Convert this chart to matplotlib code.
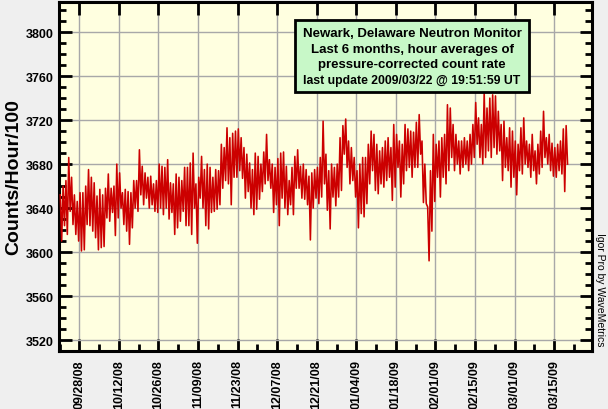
import matplotlib
matplotlib.use("Agg")
import matplotlib.pyplot as plt
from matplotlib.patches import Rectangle
import numpy as np
import pandas as pd

# daily envelope of the hourly counts
# first entry is 2008-09-21, one entry per day
start_date = "2008-09-21"
day_hi = [3652, 3660, 3665, 3686, 3668, 3652, 3646, 3654, 3654, 3660,
          3675, 3668, 3663, 3651, 3657, 3652, 3658, 3671, 3658, 3660,
          3680, 3672, 3654, 3657, 3655, 3654, 3665, 3665, 3693, 3678,
          3672, 3668, 3669, 3662, 3665, 3680, 3678, 3677, 3684, 3663,
          3662, 3671, 3668, 3665, 3677, 3677, 3681, 3690, 3662, 3668,
          3687, 3675, 3680, 3677, 3668, 3675, 3674, 3698, 3695, 3713,
          3704, 3708, 3710, 3712, 3704, 3695, 3689, 3681, 3675, 3690,
          3687, 3680, 3691, 3707, 3684, 3680, 3677, 3685, 3690, 3691,
          3678, 3665, 3677, 3687, 3693, 3678, 3680, 3675, 3669, 3672,
          3675, 3677, 3686, 3719, 3689, 3674, 3680, 3677, 3680, 3704,
          3715, 3721, 3701, 3695, 3686, 3674, 3680, 3686, 3686, 3698,
          3710, 3707, 3698, 3692, 3695, 3701, 3704, 3695, 3716, 3707,
          3701, 3698, 3716, 3712, 3710, 3709, 3718, 3725, 3701, 3680,
          3641, 3674, 3707, 3698, 3701, 3704, 3707, 3734, 3731, 3716,
          3707, 3701, 3701, 3704, 3701, 3707, 3716, 3736, 3722, 3716,
          3745, 3731, 3740, 3743, 3742, 3728, 3716, 3719, 3704, 3713,
          3710, 3701, 3698, 3713, 3722, 3701, 3698, 3707, 3692, 3698,
          3710, 3728, 3704, 3707, 3699, 3695, 3698, 3701, 3712, 3715]
day_lo = [3610, 3624, 3616, 3637, 3625, 3616, 3610, 3601, 3602, 3625,
          3624, 3619, 3613, 3602, 3604, 3605, 3631, 3628, 3636, 3615,
          3631, 3640, 3625, 3619, 3607, 3622, 3640, 3637, 3652, 3643,
          3649, 3640, 3643, 3637, 3636, 3640, 3634, 3640, 3630, 3636,
          3616, 3622, 3628, 3637, 3624, 3624, 3616, 3640, 3608, 3649,
          3640, 3624, 3621, 3636, 3637, 3639, 3643, 3658, 3665, 3662,
          3643, 3668, 3668, 3674, 3667, 3649, 3655, 3640, 3634, 3639,
          3648, 3655, 3662, 3665, 3658, 3636, 3643, 3624, 3649, 3640,
          3634, 3643, 3634, 3658, 3658, 3649, 3648, 3643, 3611, 3640,
          3649, 3644, 3650, 3662, 3638, 3621, 3650, 3642, 3650, 3656,
          3689, 3677, 3662, 3665, 3650, 3622, 3635, 3632, 3644, 3662,
          3674, 3656, 3653, 3662, 3659, 3665, 3668, 3647, 3659, 3677,
          3650, 3662, 3674, 3677, 3668, 3677, 3677, 3689, 3645, 3644,
          3592, 3619, 3646, 3668, 3650, 3668, 3662, 3674, 3686, 3674,
          3680, 3671, 3677, 3680, 3674, 3680, 3686, 3698, 3686, 3680,
          3686, 3692, 3686, 3695, 3689, 3692, 3665, 3677, 3674, 3659,
          3668, 3652, 3674, 3671, 3680, 3677, 3668, 3674, 3662, 3671,
          3677, 3686, 3680, 3674, 3669, 3668, 3674, 3671, 3655, 3680]

tick_dates = pd.date_range("2008-09-28", "2009-03-15", freq="14D")
tick_labels = [t.strftime("%m/%d/%y") for t in tick_dates]

box_lines = ["Newark, Delaware Neutron Monitor",
             "Last 6 months, hour averages of",
             "pressure-corrected count rate",
             "last update 2009/03/22 @ 19:51:59 UT"]

plt.rcParams['font.family'] = ['Liberation Sans', 'DejaVu Sans']

# day numbers relative to the first tick date
t0 = pd.Timestamp(tick_dates[0])
first = (pd.Timestamp(start_date) - t0).days
days = np.arange(len(day_hi)) + first

# zigzag between the daily high and low
xs = np.column_stack([days + 0.25, days + 0.75]).ravel()
ys = np.column_stack([day_hi, day_lo]).ravel()
tick_pos = [(t - t0).days for t in tick_dates]

W, H = 608, 410
fig = plt.figure(figsize=(W/100, H/100), dpi=100, facecolor='#efefef')
ax = fig.add_axes([59/W, 1 - 352/H, (592-59)/W, (352-3)/H])
ax.set_facecolor('#ffffe0')

ax.plot(xs, ys, color='#cc0000', lw=1.15, zorder=3)

ax.set_xlim(-7.2, 181.4)
ax.set_ylim(3511.6, 3827.4)

ax.set_yticks(np.arange(3520, 3801, 40))
ax.set_yticks(np.arange(3510, 3830, 10), minor=True)
ax.set_xticks(tick_pos)
ax.set_xticks(np.arange(-7, 182, 7), minor=True)
ax.set_xticklabels(tick_labels, rotation=90, fontsize=9, fontweight='bold')
for lab in ax.get_yticklabels():
    lab.set_fontweight('bold')
    lab.set_fontsize(9)

ax.grid(True, which='major', color='#a8a8a8', lw=1.0, zorder=1)
ax.set_axisbelow(True)

ax.tick_params(which='major', direction='in', length=9, width=2,
               left=True, right=True, bottom=True, top=True, pad=4)
ax.tick_params(which='minor', direction='in', length=5, width=2,
               left=True, right=True, bottom=True, top=False)
ax.tick_params(axis='x', which='major', pad=6)
for s in ax.spines.values():
    s.set_linewidth(2.2)

ax.set_ylabel("Counts/Hour/100", fontsize=14, fontweight='bold', labelpad=2)

# legend-like text box
fig.patches.append(Rectangle((295/W, 1 - 93/H), (529-295)/W, (93-21)/H,
                             transform=fig.transFigure, facecolor='#c8f8c8',
                             edgecolor='black', linewidth=2, zorder=5))
for i, line in enumerate(box_lines):
    fig.text(412/W, 1 - (34 + 15.6*i)/H, line, ha='center', va='center',
             fontsize=9.5 if i < 3 else 8.8, fontweight='bold', zorder=6)

fig.text(600/W, 1 - 290/H, "Igor Pro by WaveMetrics", rotation=270,
         ha='center', va='center', fontsize=7.5)

fig.savefig("out.png", dpi=100, facecolor=fig.get_facecolor())
